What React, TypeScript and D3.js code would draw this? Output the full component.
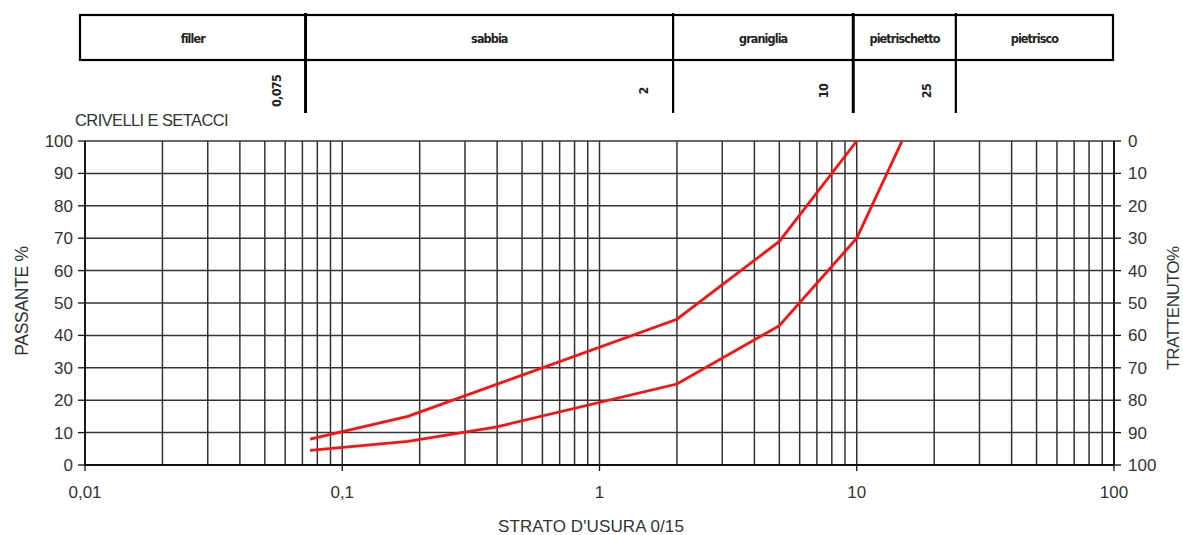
import React from "react";
import * as d3 from "d3";

// ---- data ----
const sieveUpper = [0.075, 0.18, 2, 5, 10];
const passUpper = [8, 15, 45, 69, 100];
const sieveLower = [0.075, 0.18, 0.4, 2, 5, 10, 15];
const passLower = [4.5, 7.3, 11.8, 25, 43, 70, 100];

const decades = [0.01, 0.1, 1, 10, 100];
const decadeLabels = ["0,01", "0,1", "1", "10", "100"];
const yTicks = [0, 10, 20, 30, 40, 50, 60, 70, 80, 90, 100];

const classNames = ["filler", "sabbia", "graniglia", "pietrischetto", "pietrisco"];
const classLimits = [0.075, 2, 10, 25];
const classLimitLabels = ["0,075", "2", "10", "25"];
const thickLimits = [0.075, 10];

const W = 1183;
const H = 535;

export default function App() {
  const x = d3.scaleLog().domain([0.01, 100]).range([85, 1114]);
  const y = d3.scaleLinear().domain([0, 100]).range([465, 141]);
  const yRight = d3.scaleLinear().domain([100, 0]).range([465, 141]);
  const hx = d3.scaleLog().domain([0.01, 100]).range([80, 1111]);

  const gridX = x.ticks();
  const line = d3
    .line<[number, number]>()
    .x((d) => x(d[0]))
    .y((d) => y(d[1]));

  const upper: [number, number][] = sieveUpper.map((s, i) => [s, passUpper[i]]);
  const lower: [number, number][] = sieveLower.map((s, i) => [s, passLower[i]]);

  const bounds = [0.01, ...classLimits, 100];
  const boxTop = 15;
  const boxBottom = 60;
  const dividerBottom = 113;
  const boxRight = 1113;

  const axisFont = "'Liberation Sans', Arial, sans-serif";
  const headFont = "'DejaVu Sans Condensed', 'Liberation Sans Narrow', sans-serif";
  const textColor = "#333";

  return (
    <svg
      width={W}
      height={H}
      style={{ position: "absolute", left: 0, top: 0, background: "#fff" }}
    >
      {/* header table */}
      <rect
        x={hx(0.01)}
        y={boxTop}
        width={boxRight - hx(0.01)}
        height={boxBottom - boxTop}
        fill="none"
        stroke="#000"
        strokeWidth={2.2}
      />
      {classLimits.map((v, i) => (
        <line
          key={"div" + i}
          x1={hx(v)}
          x2={hx(v)}
          y1={boxTop - 2}
          y2={dividerBottom}
          stroke="#000"
          strokeWidth={thickLimits.includes(v) ? 3 : 2.2}
        />
      ))}
      {classNames.map((n, i) => {
        const x0 = hx(bounds[i]);
        const x1 = i === classNames.length - 1 ? boxRight : hx(bounds[i + 1]);
        return (
          <text
            key={"cls" + i}
            x={(x0 + x1) / 2}
            y={43}
            textAnchor="middle"
            fontFamily={headFont}
            fontSize={12.5}
            fontWeight="bold"
            letterSpacing={-0.9}
            fill="#222"
          >
            {n}
          </text>
        );
      })}
      {classLimits.map((v, i) => (
        <text
          key={"lim" + i}
          transform={`translate(${hx(v) - 25},${91}) rotate(-90)`}
          textAnchor="middle"
          fontFamily={headFont}
          fontSize={12.5}
          fontWeight="bold"
          letterSpacing={-0.7}
          fill="#222"
        >
          {classLimitLabels[i]}
        </text>
      ))}

      {/* chart title top-left */}
      <text
        x={75}
        y={126}
        fontFamily={axisFont}
        fontSize={16.5}
        fill={textColor}
        letterSpacing={-0.6}
      >
        CRIVELLI E SETACCI
      </text>

      {/* grid */}
      {gridX.map((v, i) => (
        <line
          key={"gx" + i}
          x1={x(v)}
          x2={x(v)}
          y1={y(100)}
          y2={y(0)}
          stroke="#333"
          strokeWidth={1.5}
        />
      ))}
      {yTicks.map((v, i) => (
        <line
          key={"gy" + i}
          x1={x(0.01)}
          x2={x(100)}
          y1={y(v)}
          y2={y(v)}
          stroke="#333"
          strokeWidth={1.5}
        />
      ))}
      {/* axes */}
      <line x1={x(0.01)} x2={x(100)} y1={y(0)} y2={y(0)} stroke="#111" strokeWidth={2.2} />
      <line x1={x(0.01)} x2={x(0.01)} y1={y(100)} y2={y(0)} stroke="#111" strokeWidth={1.8} />
      <line x1={x(100)} x2={x(100)} y1={y(100)} y2={y(0)} stroke="#111" strokeWidth={1.8} />

      {/* left ticks & labels */}
      {yTicks.map((v, i) => (
        <g key={"yl" + i}>
          <line x1={x(0.01) - 7} x2={x(0.01)} y1={y(v)} y2={y(v)} stroke="#111" strokeWidth={1.3} />
          <text
            x={x(0.01) - 12}
            y={y(v) + 6}
            textAnchor="end"
            fontFamily={axisFont}
            fontSize={17}
            fill={textColor}
          >
            {v}
          </text>
        </g>
      ))}
      {/* right ticks & labels */}
      {yTicks.map((v, i) => (
        <g key={"yr" + i}>
          <line x1={x(100)} x2={x(100) + 7} y1={yRight(v)} y2={yRight(v)} stroke="#111" strokeWidth={1.3} />
          <text
            x={x(100) + 14}
            y={yRight(v) + 6}
            textAnchor="start"
            fontFamily={axisFont}
            fontSize={17}
            fill={textColor}
          >
            {v}
          </text>
        </g>
      ))}
      {/* bottom ticks & labels */}
      {decades.map((v, i) => (
        <g key={"xl" + i}>
          <line x1={x(v)} x2={x(v)} y1={y(0)} y2={y(0) + 6} stroke="#111" strokeWidth={1.3} />
          <text
            x={x(v)}
            y={498}
            textAnchor="middle"
            fontFamily={axisFont}
            fontSize={17}
            fill={textColor}
          >
            {decadeLabels[i]}
          </text>
        </g>
      ))}

      {/* axis titles */}
      <text
        x={591}
        y={532}
        textAnchor="middle"
        fontFamily={axisFont}
        fontSize={17}
        fill={textColor}
        letterSpacing={0.1}
      >
        STRATO D'USURA 0/15
      </text>
      <text
        transform={`translate(28,301) rotate(-90)`}
        textAnchor="middle"
        fontFamily={axisFont}
        fontSize={17.5}
        fill={textColor}
        letterSpacing={-0.3}
      >
        PASSANTE %
      </text>
      <text
        transform={`translate(1179,308) rotate(-90)`}
        textAnchor="middle"
        fontFamily={axisFont}
        fontSize={17}
        fill={textColor}
        letterSpacing={-0.4}
      >
        TRATTENUTO%
      </text>

      {/* curves */}
      <path d={line(upper) || ""} fill="none" stroke="#ff1010" strokeWidth={2.8} />
      <path d={line(lower) || ""} fill="none" stroke="#ff1010" strokeWidth={2.8} />
    </svg>
  );
}
